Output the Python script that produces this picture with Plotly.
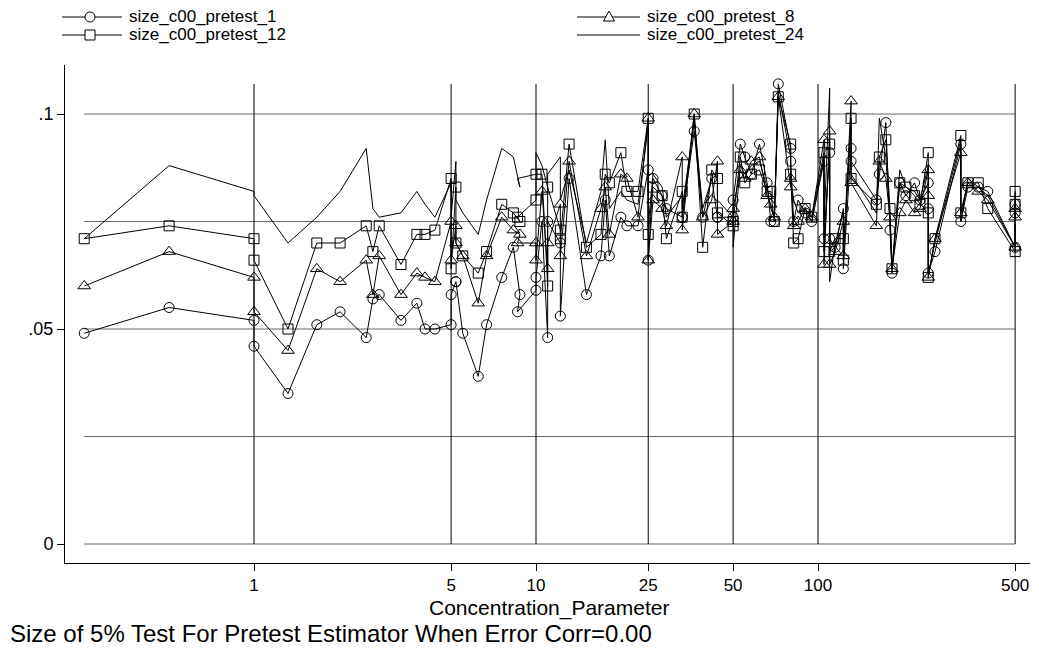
import plotly.graph_objects as go

# ---------------- data ----------------
conc = [0.25, 0.5, 1, 1, 1.32, 1.67, 2.02, 2.5, 2.64, 2.78,
        3.32, 3.78, 4.04, 4.38, 5, 5, 5.2, 5.2, 5.5, 6.24,
        6.68, 7.56, 8.31, 8.77, 8.6, 10, 10, 10.5, 11, 11,
        12.2, 12.2, 13.1, 15.1, 17, 17.6, 18.2, 20, 21, 23,
        25, 25, 26, 28, 29, 33, 33, 36.4, 39, 42,
        44, 44, 50, 50, 53, 55, 58, 62, 66, 68,
        70, 72.3, 80, 80, 82, 85, 90, 95, 105, 105,
        110, 110, 115, 123, 123, 131, 131, 161, 165, 174,
        180, 183, 195, 205, 220, 230, 246, 246, 246, 260,
        321, 321, 340, 370, 400, 500, 500, 500]

size_pretest_1 = [.049, .055, .052, .046, .035, .051, .054, .048, .057, .058,
                  .052, .056, .050, .050, .051, .058, .061, .061, .049, .039,
                  .051, .062, .069, .058, .054, .059, .062, .075, .048, .075,
                  .070, .053, .085, .058, .067, .080, .067, .076, .074, .074,
                  .087, .066, .085, .081, .078, .076, .076, .096, .076, .085,
                  .076, .076, .076, .080, .093, .090, .086, .093, .084, .075,
                  .075, .107, .092, .089, .075, .080, .077, .075, .089, .071,
                  .091, .071, .069, .078, .064, .092, .089, .080, .086, .098,
                  .073, .063, .084, .081, .084, .080, .084, .078, .063, .068,
                  .093, .075, .083, .083, .082, .069, .079, .077]

size_pretest_8 = [.060, .068, .062, .054, .045, .064, .061, .066, .058, .067,
                  .058, .063, .062, .061, .075, .066, .074, .070, .067, .056,
                  .067, .076, .073, .072, .070, .070, .066, .082, .064, .070,
                  .079, .067, .089, .067, .078, .083, .072, .086, .085, .076,
                  .099, .066, .080, .078, .074, .090, .073, .100, .076, .080,
                  .089, .072, .075, .078, .087, .085, .089, .090, .081, .079,
                  .076, .104, .083, .085, .074, .075, .078, .076, .094, .065,
                  .096, .065, .068, .075, .067, .103, .084, .074, .089, .085,
                  .076, .064, .077, .080, .077, .078, .087, .081, .062, .071,
                  .091, .077, .084, .082, .080, .069, .078, .076]

size_pretest_12 = [.071, .074, .071, .066, .050, .070, .070, .074, .068, .074,
                   .065, .072, .072, .073, .085, .064, .083, .070, .067, .063,
                   .068, .079, .077, .075, .076, .080, .086, .086, .060, .083,
                   .073, .071, .093, .069, .072, .086, .084, .091, .082, .082,
                   .099, .072, .083, .081, .071, .082, .076, .100, .069, .087,
                   .085, .077, .074, .075, .090, .084, .086, .087, .082, .082,
                   .075, .104, .093, .086, .070, .071, .078, .076, .091, .068,
                   .093, .068, .071, .071, .066, .099, .085, .079, .090, .094,
                   .078, .064, .084, .083, .081, .079, .091, .077, .062, .071,
                   .095, .077, .084, .084, .078, .068, .082, .079]

size_pretest_24 = [.071, .088, .082, .081, .070, .076, .082, .092, .078, .076,
                   .077, .082, .079, .076, .084, .076, .089, .080, .077, .072,
                   .080, .092, .090, .083, .085, .086, .091, .088, .083, .086,
                   .090, .080, .087, .070, .082, .094, .078, .082, .080, .079,
                   .097, .074, .086, .083, .076, .081, .078, .098, .078, .085,
                   .086, .080, .076, .069, .088, .086, .088, .089, .083, .078,
                   .076, .105, .090, .085, .080, .077, .078, .075, .090, .074,
                   .106, .061, .070, .077, .068, .097, .086, .077, .099, .090,
                   .075, .064, .087, .083, .082, .080, .088, .079, .063, .070,
                   .094, .075, .085, .083, .081, .069, .080, .078]

series_names = ["size_c00_pretest_1", "size_c00_pretest_8",
                "size_c00_pretest_12", "size_c00_pretest_24"]
x_ticks = [1, 5, 10, 25, 50, 100, 500]
x_tick_text = ["1", "5", "10", "25", "50", "100", "500"]
y_ticks = [0, 0.05, 0.1]
y_tick_text = ["0", ".05", ".1"]
y_grid = [0, 0.025, 0.05, 0.075, 0.1]

# ---------------- layout constants (reference pixels) ----------------
OFF = 8                                  # page body margin of the html page
W, H = 1039 - 2 * OFF, 654 - 2 * OFF     # figure size
L, R, T, B = 65, 1030, 65, 563           # plot area edges in reference pixels
PW, PH = R - L, B - T
FONT = "Liberation Sans, Arial, sans-serif"


def px(xp):
    return (xp - L) / PW


def py(yp):
    return (B - yp) / PH


fig = go.Figure()

series_data = [size_pretest_1, size_pretest_8, size_pretest_12, size_pretest_24]
symbols = ["circle-open", "triangle-up-open", "square-open", None]
msizes = [10, 11, 10, 0]
for name, vals, sym, ms in zip(series_names, series_data, symbols, msizes):
    if sym:
        fig.add_trace(go.Scatter(
            x=conc, y=vals, name=name, mode="lines+markers",
            line=dict(color="black", width=1),
            marker=dict(symbol=sym, size=ms, color="black",
                        line=dict(color="black", width=1)),
            showlegend=False))
    else:
        fig.add_trace(go.Scatter(
            x=conc, y=vals, name=name, mode="lines",
            line=dict(color="black", width=1), showlegend=False))

xmin, xmax = min(conc), max(conc)
ymax = max(max(s) for s in series_data)
shapes = []
for g in y_grid:
    shapes.append(dict(type="line", xref="x", yref="y", x0=xmin, x1=xmax,
                       y0=g, y1=g, layer="below",
                       line=dict(color="#666666", width=1)))
for g in x_ticks:
    shapes.append(dict(type="line", xref="x", yref="y", x0=g, x1=g,
                       y0=0, y1=ymax, layer="below",
                       line=dict(color="black", width=1)))

# ---------------- manual legend (2 x 2) ----------------
leg_rows = [17, 35]
leg_cols = [(62, 122, 90, 127), (577, 640, 609, 645)]
leg_pos = [(0, 0), (0, 1), (1, 0), (1, 1)]   # (row, col) per series
annotations = []
for i, name in enumerate(series_names):
    r, c = leg_pos[i]
    x0, x1, xm, xt = leg_cols[c]
    yy = leg_rows[r]
    shapes.append(dict(type="line", xref="paper", yref="paper",
                       x0=px(x0), x1=px(x1), y0=py(yy), y1=py(yy),
                       line=dict(color="black", width=1)))
    if i == 0:
        shapes.append(dict(type="circle", xref="paper", yref="paper",
                           xsizemode="pixel", ysizemode="pixel",
                           xanchor=px(xm), yanchor=py(yy),
                           x0=-5, x1=5, y0=-5, y1=5,
                           fillcolor="white", line=dict(color="black", width=1)))
    elif i == 1:
        shapes.append(dict(type="path", xref="paper", yref="paper",
                           xsizemode="pixel", ysizemode="pixel",
                           xanchor=px(xm), yanchor=py(yy),
                           path="M -5.5 -4 L 5.5 -4 L 0 6 Z",
                           fillcolor="white", line=dict(color="black", width=1)))
    elif i == 2:
        shapes.append(dict(type="rect", xref="paper", yref="paper",
                           xsizemode="pixel", ysizemode="pixel",
                           xanchor=px(xm), yanchor=py(yy),
                           x0=-5, x1=5, y0=-5, y1=5,
                           fillcolor="white", line=dict(color="black", width=1)))
    annotations.append(dict(text=name, xref="paper", yref="paper",
                            x=px(xt), y=py(yy), xanchor="left", yanchor="middle",
                            showarrow=False, font=dict(family=FONT, size=17, color="black")))

annotations.append(dict(text="Concentration_Parameter", xref="paper", yref="paper",
                        x=px(549), y=py(608), xanchor="center", yanchor="middle",
                        showarrow=False, font=dict(family=FONT, size=21, color="black")))
annotations.append(dict(text="Size of 5% Test For Pretest Estimator When Error Corr=0.00",
                        xref="paper", yref="paper",
                        x=px(8), y=py(633), xanchor="left", yanchor="middle",
                        showarrow=False, font=dict(family=FONT, size=24, color="black")))

# axis ranges so that 0.25 -> px 86, 500 -> px 1015, 0 -> py 544, .1 -> py 114
a_x = 282.0  # pixels per decade
x0_log = (L - 254) / a_x
x1_log = (R - 254) / a_x
ppu = 4300.0
y_lo = (544 - B) / ppu
y_hi = (544 - T) / ppu

fig.update_layout(
    width=W, height=H,
    margin=dict(l=L - OFF, r=W - (R - OFF), t=T - OFF, b=H - (B - OFF), pad=0),
    paper_bgcolor="white", plot_bgcolor="white",
    showlegend=False,
    shapes=shapes, annotations=annotations,
    font=dict(family=FONT, color="black"),
    xaxis=dict(type="log", range=[x0_log, x1_log], showgrid=False, zeroline=False,
               showline=True, linecolor="black", linewidth=1,
               ticks="outside", ticklen=7, tickcolor="black", tickwidth=1,
               tickvals=x_ticks, ticktext=x_tick_text,
               tickfont=dict(family=FONT, size=17, color="black")),
    yaxis=dict(range=[y_lo, y_hi], showgrid=False, zeroline=False,
               showline=True, linecolor="black", linewidth=1,
               ticks="outside", ticklen=7, tickcolor="black", tickwidth=1,
               tickvals=y_ticks, ticktext=y_tick_text,
               tickfont=dict(family=FONT, size=18, color="black")),
)

fig.write_html("out.html")
